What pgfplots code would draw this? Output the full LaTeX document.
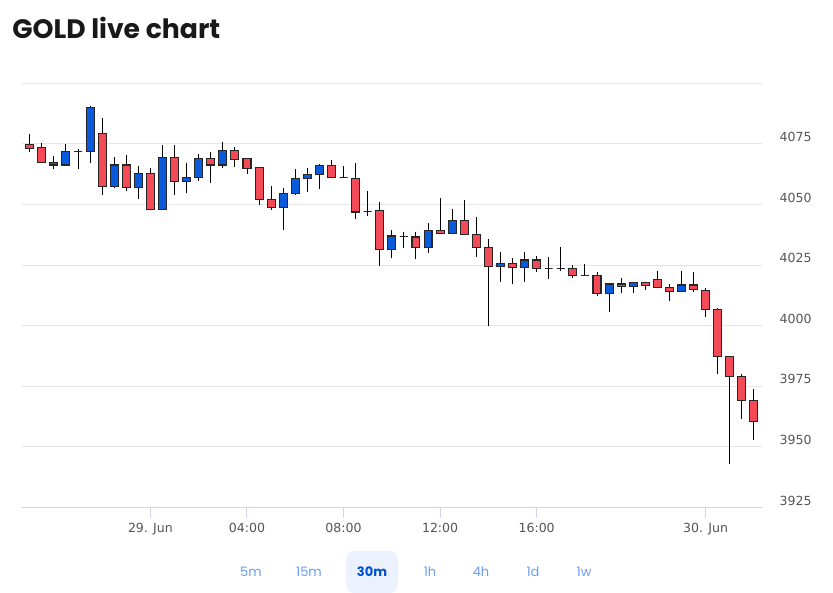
\documentclass[border=0pt]{standalone}
\usepackage{fontspec}
\setmainfont{PT Sans}
\newfontfamily\titlefont{Poppins}
\newfontfamily\tickfont{DejaVu Sans}
\usepackage{pgfplots}
\pgfplotsset{compat=1.18}
\definecolor{gridc}{HTML}{E6E6E6}
\definecolor{axisc}{HTML}{CCD6EB}
\definecolor{tickc}{HTML}{555555}
\definecolor{upc}{HTML}{0A5BDB}
\definecolor{downc}{HTML}{F44A57}
\definecolor{darkc}{HTML}{9A3338}
\definecolor{btn}{HTML}{6A9CF0}
\definecolor{btnsel}{HTML}{0050D2}
\definecolor{btnbg}{HTML}{EBF2FD}
% k, low, body low, body high, high, colour
\newcommand{\candle}[6]{%
  \pgfmathsetmacro\xl{#1-0.33}\pgfmathsetmacro\xr{#1+0.33}%
  \addplot[black, line width=0.7pt] coordinates {(#1,#2) (#1,#5)};
  \edef\doit{\noexpand\addplot[fill=#6, draw=black!85, line width=0.8pt, line join=miter]
    coordinates {(\xl,#3) (\xr,#3) (\xr,#4) (\xl,#4)} -- cycle;}\doit}
\begin{document}
\begin{tikzpicture}
\begin{scope}[x=0.75pt,y=-0.75pt]
\path[use as bounding box] (0,0) rectangle (833,593);
\node[anchor=base west, inner sep=0pt, text=black!90] at (12,38)
  {\titlefont\fontsize{20}{24}\selectfont\bfseries GOLD live chart};
\end{scope}
\begin{axis}[
  at={(16.5pt,-380.625pt)}, anchor=south west,
  scale only axis, width=555pt, height=318.15pt,
  xmin=-0.64, xmax=60.67, ymin=3925, ymax=4100,
  axis x line*=bottom, axis y line*=right,
  y axis line style={draw=none},
  x axis line style={draw=axisc, line width=0.75pt, -},
  xtick={10,18,26,34,42,56},
  xticklabels={29. Jun,04:00,08:00,12:00,16:00,30. Jun},
  tick align=outside,
  x tick style={draw=axisc, line width=0.75pt},
  xtick pos=bottom,
  major tick length=7.5pt,
  y tick style={draw=none},
  ytick={3925,3950,3975,4000,4025,4050,4075,4100},
  yticklabels={3925,3950,3975,4000,4025,4050,4075,{}},
  ymajorgrids,
  grid style={draw=gridc, line width=0.75pt},
  ticklabel style={font=\tickfont\fontsize{9.4}{11}\selectfont, text=tickc},
  yticklabel style={anchor=west, inner sep=0pt, xshift=5.5pt, yshift=5.25pt},
  xticklabel style={yshift=-1pt},
]
\candle{0}{4071.5}{4073.2}{4074.8}{4079.0}{downc}
\candle{1}{4067.0}{4067.2}{4073.4}{4075.2}{downc}
\candle{2}{4064.6}{4066.3}{4067.4}{4069.9}{darkc}
\candle{3}{4066.0}{4066.3}{4071.7}{4074.8}{upc}
\candle{4}{4064.6}{4071.7}{4071.7}{4072.9}{downc}
\candle{5}{4067.0}{4071.8}{4090.1}{4090.8}{upc}
\candle{6}{4053.9}{4057.5}{4079.1}{4085.8}{downc}
\candle{7}{4056.7}{4057.3}{4066.3}{4069.5}{upc}
\candle{8}{4055.7}{4056.9}{4066.3}{4070.4}{downc}
\candle{9}{4052.3}{4056.9}{4062.9}{4066.0}{upc}
\candle{10}{4048.0}{4048.0}{4062.9}{4064.9}{downc}
\candle{11}{4048.0}{4048.0}{4069.2}{4074.5}{upc}
\candle{12}{4053.9}{4059.4}{4069.2}{4074.5}{downc}
\candle{13}{4054.6}{4059.4}{4061.3}{4067.0}{upc}
\candle{14}{4059.7}{4061.3}{4068.8}{4070.8}{upc}
\candle{15}{4058.7}{4066.3}{4068.8}{4071.8}{downc}
\candle{16}{4065.2}{4066.3}{4072.2}{4075.9}{upc}
\candle{17}{4065.6}{4068.6}{4072.2}{4073.6}{downc}
\candle{18}{4062.6}{4064.8}{4068.8}{4068.8}{downc}
\candle{19}{4049.7}{4051.9}{4065.3}{4065.3}{downc}
\candle{20}{4047.7}{4048.8}{4051.9}{4057.6}{downc}
\candle{21}{4039.5}{4048.8}{4054.6}{4056.9}{upc}
\candle{22}{4053.9}{4054.5}{4060.9}{4064.5}{upc}
\candle{23}{4055.3}{4060.9}{4062.3}{4064.9}{upc}
\candle{24}{4056.3}{4062.3}{4065.9}{4066.7}{upc}
\candle{25}{4061.3}{4061.3}{4065.9}{4068.4}{downc}
\candle{26}{4061.1}{4061.1}{4061.1}{4066.0}{downc}
\candle{27}{4043.9}{4046.9}{4060.9}{4067.0}{downc}
\candle{28}{4045.4}{4047.2}{4047.2}{4055.6}{downc}
\candle{29}{4024.6}{4031.6}{4047.4}{4050.9}{downc}
\candle{30}{4027.8}{4031.6}{4037.0}{4039.5}{upc}
\candle{31}{4032.2}{4036.7}{4036.7}{4038.5}{downc}
\candle{32}{4027.5}{4032.2}{4036.6}{4038.5}{downc}
\candle{33}{4030.1}{4032.2}{4039.2}{4042.2}{upc}
\candle{34}{4038.1}{4038.1}{4039.2}{4052.6}{downc}
\candle{35}{4038.1}{4038.1}{4043.5}{4048.1}{upc}
\candle{36}{4037.7}{4037.7}{4043.5}{4051.7}{downc}
\candle{37}{4028.5}{4032.3}{4037.7}{4044.7}{downc}
\candle{38}{3999.9}{4024.6}{4032.1}{4035.6}{downc}
\candle{39}{4018.2}{4024.6}{4025.6}{4030.4}{upc}
\candle{40}{4017.1}{4024.1}{4025.7}{4027.8}{downc}
\candle{41}{4018.2}{4024.1}{4027.1}{4030.3}{upc}
\candle{42}{4022.3}{4023.7}{4027.1}{4028.9}{downc}
\candle{43}{4019.3}{4023.7}{4023.7}{4028.2}{downc}
\candle{44}{4022.7}{4023.7}{4023.7}{4032.3}{downc}
\candle{45}{4019.8}{4020.8}{4023.7}{4025.0}{downc}
\candle{46}{4020.8}{4020.8}{4020.8}{4025.5}{downc}
\candle{47}{4012.4}{4013.4}{4020.8}{4022.0}{downc}
\candle{48}{4005.8}{4013.4}{4017.2}{4017.7}{upc}
\candle{49}{4013.4}{4016.0}{4017.2}{4019.8}{downc}
\candle{50}{4013.4}{4016.0}{4017.7}{4017.7}{upc}
\candle{51}{4014.7}{4016.4}{4017.9}{4017.9}{downc}
\candle{52}{4015.7}{4015.7}{4018.9}{4022.6}{downc}
\candle{53}{4010.2}{4014.3}{4015.8}{4017.2}{downc}
\candle{54}{4014.3}{4014.3}{4016.8}{4022.6}{upc}
\candle{55}{4013.8}{4015.0}{4016.8}{4022.0}{downc}
\candle{56}{4003.7}{4006.5}{4014.7}{4015.4}{downc}
\candle{57}{3980.0}{3987.2}{4006.5}{4007.2}{downc}
\candle{58}{3942.8}{3979.1}{3987.2}{3987.2}{downc}
\candle{59}{3961.5}{3969.2}{3979.1}{3980.0}{downc}
\candle{60}{3952.8}{3960.4}{3969.2}{3973.9}{downc}
\end{axis}
\begin{scope}[x=0.75pt,y=-0.75pt]
\fill[btnbg, rounded corners=6pt] (346,551) rectangle (398,593);
\begin{scope}[every node/.style={inner sep=0pt, anchor=center,
    font=\titlefont\fontsize{9.75}{11}\selectfont}]
\node[text=btn] at (251,572) {5m};
\node[text=btn] at (309,572) {15m};
\node[text=btnsel, font=\titlefont\fontsize{9.75}{11}\selectfont\bfseries] at (372,572) {30m};
\node[text=btn] at (430,572) {1h};
\node[text=btn] at (481,572) {4h};
\node[text=btn] at (533,572) {1d};
\node[text=btn] at (584,572) {1w};
\end{scope}
\end{scope}
\end{tikzpicture}
\end{document}
